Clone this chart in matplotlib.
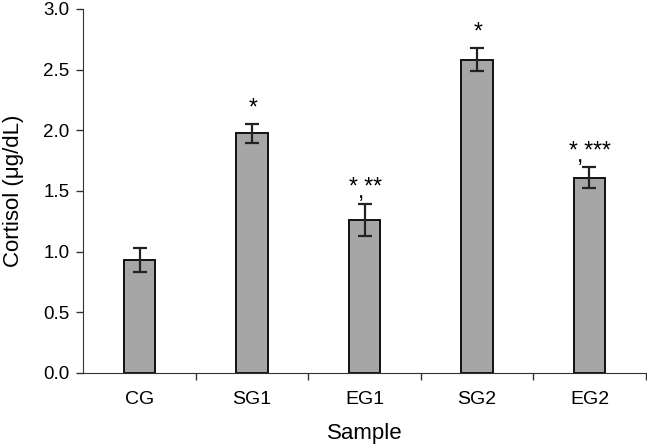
import matplotlib
matplotlib.use("Agg")
import matplotlib.pyplot as plt
import numpy as np

plt.rcParams['font.family'] = ['Liberation Sans', 'DejaVu Sans']

samples = ["CG", "SG1", "EG1", "SG2", "EG2"]
cortisol = [0.93, 1.975, 1.26, 2.58, 1.61]
errors = [0.10, 0.077, 0.135, 0.095, 0.085]
marks_top = ["", "*", "* **", "*", "* ***"]
comma_shift = [None, None, -4, None, -9]   # px left of bar centre, None = no comma

fig = plt.figure(figsize=(6.47, 4.45), dpi=100)
ax = fig.add_axes([0.129, 0.162, 0.869, 0.818])

x = np.arange(len(samples))
ax.bar(x, cortisol, width=0.28, color="#a6a6a6", edgecolor="#111111", linewidth=1.4,
       yerr=errors, error_kw=dict(ecolor="#222222", elinewidth=1.6, capsize=4.7, capthick=1.6))

for i, (v, e) in enumerate(zip(cortisol, errors)):
    if marks_top[i]:
        ax.annotate(marks_top[i], (x[i], v + e), xytext=(0.5, 7.0), textcoords="offset points",
                    ha="center", va="baseline", fontsize=16.5)
    if comma_shift[i] is not None:
        ax.annotate(",", (x[i], v + e), xytext=(comma_shift[i] * 0.72, 4.0), textcoords="offset points",
                    ha="center", va="baseline", fontsize=16.5)

ax.set_xlim(-0.5, 4.5)
ax.set_ylim(0, 3.0)
ax.set_yticks(np.arange(0, 3.01, 0.5))
ax.set_yticklabels([f"{t:.1f}" for t in np.arange(0, 3.01, 0.5)])
ax.set_xticks(x)
ax.set_xticklabels(samples)
ax.set_xticks(np.arange(0.5, 4.6, 1.0), minor=True)
ax.tick_params(axis="x", which="major", length=0, pad=13, labelsize=14)
ax.tick_params(axis="x", which="minor", length=5, width=1, direction="out", color="#333333")
ax.tick_params(axis="y", length=5, width=1, direction="out", labelsize=13.5, pad=5, color="#333333")

ax.spines["top"].set_visible(False)
ax.spines["right"].set_visible(False)
ax.spines["left"].set_color("#333333")
ax.spines["bottom"].set_color("#333333")

ax.set_xlabel("Sample", fontsize=16, labelpad=11)
ax.set_ylabel("Cortisol (μg/dL)", fontsize=16, labelpad=14)

fig.savefig("out.png", dpi=100)
